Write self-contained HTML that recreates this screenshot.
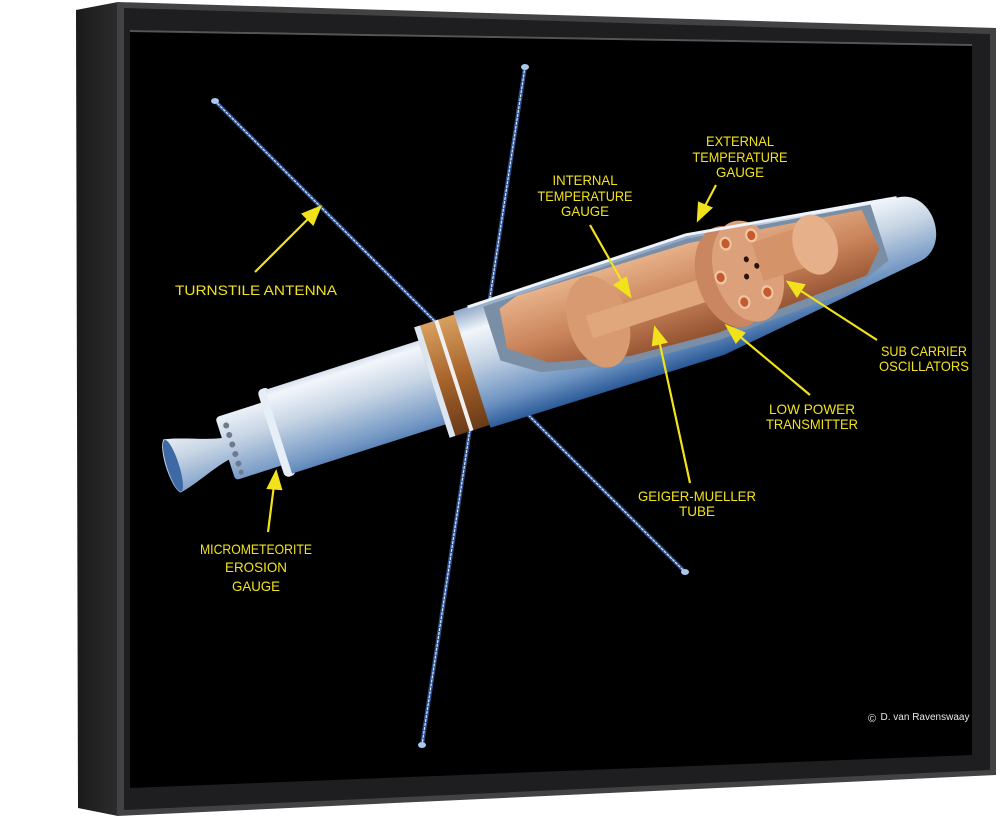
<!DOCTYPE html>
<html><head><meta charset="utf-8"><style>
html,body{margin:0;padding:0;background:#fff;width:1000px;height:820px;overflow:hidden}
svg{display:block}
text{font-family:"Liberation Sans",sans-serif;fill:#f2e21c;font-size:14px;text-anchor:middle}
</style></head><body>
<svg width="1000" height="820" viewBox="0 0 1000 820" xmlns="http://www.w3.org/2000/svg">
<defs>
<linearGradient id="body" gradientUnits="userSpaceOnUse" x1="0" y1="-62" x2="0" y2="62">
<stop offset="0" stop-color="#8aa4c4"/><stop offset="0.2" stop-color="#f2f6fb"/><stop offset="0.45" stop-color="#c6d4e4"/><stop offset="0.8" stop-color="#6e94c2"/><stop offset="1" stop-color="#2b5a98"/></linearGradient>
<linearGradient id="cop" gradientUnits="userSpaceOnUse" x1="0" y1="-50" x2="0" y2="40">
<stop offset="0" stop-color="#e9b48c"/><stop offset="0.5" stop-color="#c9835a"/><stop offset="1" stop-color="#8a4a2a"/></linearGradient>
<linearGradient id="band" gradientUnits="userSpaceOnUse" x1="0" y1="-58" x2="0" y2="58">
<stop offset="0" stop-color="#d9a060"/><stop offset="0.5" stop-color="#a8652c"/><stop offset="1" stop-color="#6a3a18"/></linearGradient>
<linearGradient id="side" x1="0" y1="0" x2="1" y2="0"><stop offset="0" stop-color="#1a1a1a"/><stop offset="1" stop-color="#2c2c2c"/></linearGradient>
</defs>
<polygon points="76,10 118,2 118,816 78,808" fill="url(#side)"/>
<polygon points="117,2 996,28 996,775 117,816" fill="#424244"/>
<polygon points="124,8 990,34 990,770 124,810" fill="#1e1e20"/>
<polygon points="130,30 972,44 972,755 130,788" fill="#000"/>
<line x1="130" y1="31" x2="972" y2="45" stroke="#555" stroke-width="2"/>
<g stroke-linecap="round">
<line x1="215" y1="101" x2="685" y2="572" stroke="#2b4f8f" stroke-width="4"/>
<line x1="215" y1="101" x2="685" y2="572" stroke="#dfe8f5" stroke-width="1.2" stroke-dasharray="2 2"/>
<line x1="525" y1="67" x2="422" y2="745" stroke="#2b4f8f" stroke-width="4"/>
<line x1="525" y1="67" x2="422" y2="745" stroke="#dfe8f5" stroke-width="1.2" stroke-dasharray="2 2"/>
</g>
<ellipse cx="215" cy="101" rx="4" ry="3" fill="#a9c8ee"/>
<ellipse cx="685" cy="572" rx="4" ry="3" fill="#a9c8ee"/>
<ellipse cx="525" cy="67" rx="4" ry="3" fill="#a9c8ee"/>
<ellipse cx="422" cy="745" rx="4" ry="3" fill="#a9c8ee"/>
<g transform="translate(172,466) rotate(-17.8)">
<path d="M0,-28 C20,-24 40,-14 58,-11 L58,11 C40,14 20,24 0,28 C-8,20 -8,-20 0,-28Z" fill="url(#body)"/>
<ellipse cx="1" cy="0" rx="6" ry="27" fill="#3d6aa4"/>
<rect x="56" y="-33" width="52" height="66" rx="4" fill="url(#body)"/>
<g fill="#6d7b8c"><circle cx="64" cy="-22" r="3"/><circle cx="64" cy="-12" r="3"/><circle cx="64" cy="-2" r="3"/><circle cx="64" cy="8" r="3"/><circle cx="64" cy="18" r="3"/><circle cx="64" cy="27" r="2.5"/></g>
<rect x="104" y="-46" width="12" height="92" rx="5" fill="#e6eef7"/>
<rect x="112" y="-44" width="165" height="88" fill="url(#body)"/>
<rect x="273" y="-58" width="44" height="116" fill="url(#band)"/>
<rect x="273" y="-58" width="6" height="116" fill="#dce6f1"/>
<rect x="294" y="-58" width="4" height="116" fill="#f0f0f0"/>
<path d="M315,-61 L560,-63 L772,-34 C810,-32 810,32 772,34 L560,63 L315,61Z" fill="url(#body)"/>
<g transform="scale(1,1.18)">
<path d="M345,-48 L560,-50 L745,-30 L745,20 L700,34 L560,40 L470,36 L380,20 L345,0Z" fill="#7a8fa6"/>
<path d="M360,-42 L380,-48 L560,-46 L735,-28 L740,8 L720,26 L560,34 L470,30 L390,14 L355,-8Z" fill="url(#cop)"/>
<ellipse cx="450" cy="-6" rx="30" ry="40" fill="#d89a70"/>
<rect x="440" y="-14" width="130" height="20" fill="#e0a77c"/>
<ellipse cx="590" cy="-8" rx="34" ry="44" fill="#c98660"/>
<ellipse cx="608" cy="-8" rx="34" ry="44" fill="#dca07a"/>
<rect x="620" y="-30" width="60" height="34" fill="#d49368"/>
<ellipse cx="680" cy="-12" rx="22" ry="26" fill="#e5b08a"/>
<g fill="#c45a2e" stroke="#f1c7a3" stroke-width="2"><circle cx="595" cy="-36" r="5"/><circle cx="580" cy="-10" r="5"/><circle cx="595" cy="16" r="5"/><circle cx="620" cy="14" r="5"/><circle cx="622" cy="-36" r="5"/></g>
<g fill="#2a140a"><circle cx="610" cy="-18" r="2.5"/><circle cx="618" cy="-10" r="2.5"/><circle cx="605" cy="-4" r="2.5"/></g>
</g>
<path d="M330,-61 L560,-63 L772,-34" fill="none" stroke="#eef4fb" stroke-width="3"/>
</g>
<g stroke="#f2e21c" stroke-width="2.2" fill="#f2e21c">
<line x1="255" y1="272" x2="312" y2="215"/><polygon points="320,207 303,214 313,224"/>
<line x1="268" y1="532" x2="274" y2="485"/><polygon points="276,472 268,488 281,489"/>
<line x1="590" y1="225" x2="624" y2="285"/><polygon points="630,296 626,278 615,285"/>
<line x1="716" y1="185" x2="704" y2="208"/><polygon points="698,220 711,208 699,203"/>
<line x1="690" y1="483" x2="659" y2="340"/><polygon points="655,328 653,345 666,342"/>
<line x1="810" y1="395" x2="738" y2="335"/><polygon points="727,326 736,342 744,333"/>
<line x1="877" y1="340" x2="798" y2="289"/><polygon points="788,282 797,296 804,285"/>
</g>
<text x="256" y="295" textLength="162" lengthAdjust="spacingAndGlyphs">TURNSTILE ANTENNA</text>
<text x="256" y="554" textLength="112" lengthAdjust="spacingAndGlyphs">MICROMETEORITE</text>
<text x="256" y="572" textLength="62" lengthAdjust="spacingAndGlyphs">EROSION</text>
<text x="256" y="591" textLength="48" lengthAdjust="spacingAndGlyphs">GAUGE</text>
<text x="585" y="185" textLength="65" lengthAdjust="spacingAndGlyphs">INTERNAL</text>
<text x="585" y="201" textLength="95" lengthAdjust="spacingAndGlyphs">TEMPERATURE</text>
<text x="585" y="216" textLength="48" lengthAdjust="spacingAndGlyphs">GAUGE</text>
<text x="740" y="146" textLength="68" lengthAdjust="spacingAndGlyphs">EXTERNAL</text>
<text x="740" y="162" textLength="95" lengthAdjust="spacingAndGlyphs">TEMPERATURE</text>
<text x="740" y="177" textLength="48" lengthAdjust="spacingAndGlyphs">GAUGE</text>
<text x="697" y="501" textLength="118" lengthAdjust="spacingAndGlyphs">GEIGER-MUELLER</text>
<text x="697" y="516" textLength="36" lengthAdjust="spacingAndGlyphs">TUBE</text>
<text x="812" y="414" textLength="86" lengthAdjust="spacingAndGlyphs">LOW POWER</text>
<text x="812" y="429" textLength="92" lengthAdjust="spacingAndGlyphs">TRANSMITTER</text>
<text x="924" y="356" textLength="86" lengthAdjust="spacingAndGlyphs">SUB CARRIER</text>
<text x="924" y="371" textLength="90" lengthAdjust="spacingAndGlyphs">OSCILLATORS</text>
<text x="872" y="722" style="fill:#e8e8e8;font-size:11px">©</text>
<text x="925" y="720" style="fill:#e8e8e8;font-size:10px">D. van Ravenswaay</text>
</svg>
</body></html>
